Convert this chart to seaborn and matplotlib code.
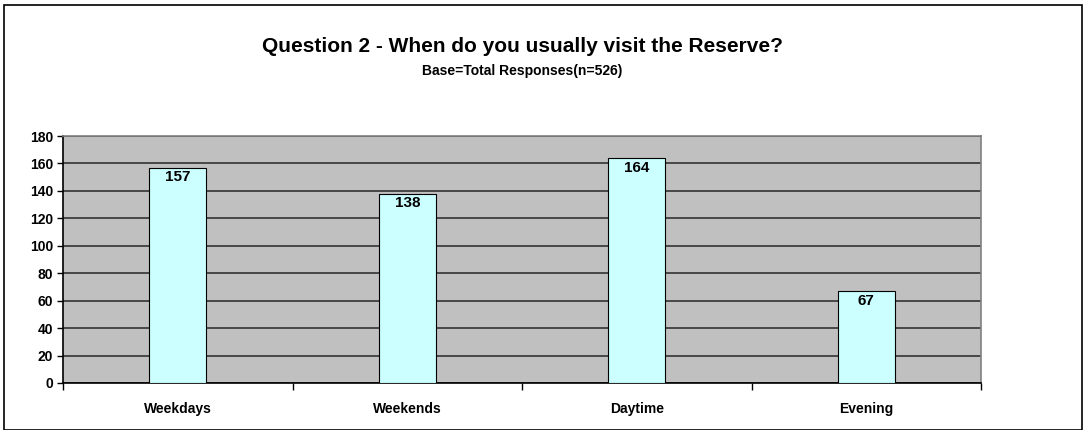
import matplotlib
matplotlib.use("Agg")
import matplotlib.pyplot as plt
import seaborn as sns
import pandas as pd
from matplotlib.patches import Rectangle

# chart data
categories = ["Weekdays", "Weekends", "Daytime", "Evening"]
counts = [157, 138, 164, 67]
y_ticks = [0, 20, 40, 60, 80, 100, 120, 140, 160, 180]

title = "Question 2 - When do you usually visit the Reserve?"
subtitle = "Base=Total Responses(n=526)"

df = pd.DataFrame({"When": categories, "Responses": counts})

sns.set_style("white")
plt.rcParams['font.family'] = ['Liberation Sans', 'DejaVu Sans']
plt.rcParams['text.color'] = 'black'
plt.rcParams['xtick.color'] = 'black'
plt.rcParams['ytick.color'] = 'black'
plt.rcParams['axes.labelcolor'] = 'black'

fig = plt.figure(figsize=(10.86, 4.30), dpi=100)
ax = fig.add_axes([63 / 1086, 1 - 383 / 430, (981 - 63) / 1086, (383 - 136) / 430])

ax.set_facecolor("#C0C0C0")
sns.barplot(data=df, x="When", y="Responses", color="#CCFFFF", width=0.25,
            edgecolor="black", linewidth=0.8, saturation=1, ax=ax, zorder=3)

ax.set_ylim(0, 180)
ax.set_xlim(-0.5, len(categories) - 0.5)
ax.set_yticks(y_ticks)
ax.yaxis.grid(True, color="#333333", linewidth=1.2, zorder=0)
ax.set_axisbelow(True)
ax.set_xlabel("")
ax.set_ylabel("")

# value labels inside bar tops
for i, v in enumerate(counts):
    ax.text(i, v - 2, str(v), ha="center", va="top", fontsize=11,
            fontweight="bold", color="black", zorder=4)

# tick styling
ax.tick_params(axis="y", direction="out", length=4, width=1, labelsize=10, pad=3, left=True)
ax.tick_params(axis="x", length=0, labelsize=10, pad=14)
for lab in ax.get_xticklabels() + ax.get_yticklabels():
    lab.set_fontweight("bold")
    lab.set_color("black")

# category separator ticks on the x-axis
ax.set_xticks([i - 0.5 for i in range(len(categories) + 1)], minor=True)
ax.tick_params(axis="x", which="minor", direction="out", length=5, width=1, bottom=True)

for side in ["left", "bottom"]:
    ax.spines[side].set_color("black")
    ax.spines[side].set_linewidth(1.2)
for side in ["top", "right"]:
    ax.spines[side].set_color("#808080")
    ax.spines[side].set_linewidth(1.2)

fig.text(522 / 1086, 1 - 47 / 430, title, ha="center", va="center",
         fontsize=15, fontweight="bold", color="black")
fig.text(522 / 1086, 1 - 71 / 430, subtitle, ha="center", va="center",
         fontsize=10, fontweight="bold", color="black")

# outer chart border
fig.patches.append(Rectangle((4 / 1086, 0), 1078 / 1086, 1 - 5 / 430,
                             transform=fig.transFigure, fill=False,
                             edgecolor="black", linewidth=1.2))

fig.savefig("out.png", dpi=100)
